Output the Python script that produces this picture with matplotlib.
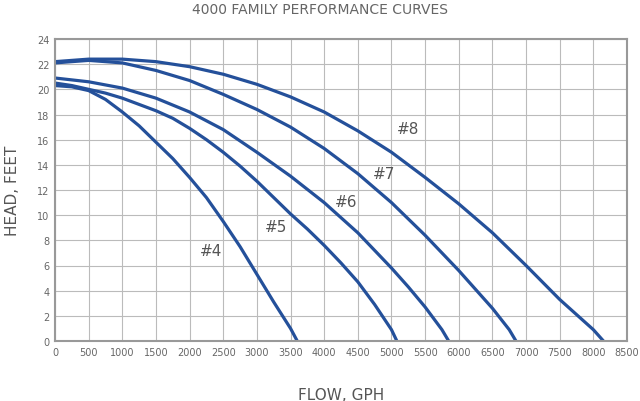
import matplotlib
matplotlib.use("Agg")
import matplotlib.pyplot as plt

flow4 = [0, 250, 500, 750, 1000, 1250, 1500, 1750, 2000, 2250, 2500, 2750, 3000, 3250, 3500, 3600]
head4 = [20.3, 20.2, 19.9, 19.2, 18.2, 17.1, 15.8, 14.5, 13.0, 11.4, 9.5, 7.5, 5.3, 3.1, 1.0, 0]
flow5 = [0, 250, 500, 750, 1000, 1250, 1500, 1750, 2000, 2250, 2500, 2750, 3000, 3250, 3500, 3750, 4000, 4250, 4500, 4750, 5000, 5080]
head5 = [20.5, 20.3, 20.0, 19.7, 19.3, 18.8, 18.3, 17.7, 16.9, 16.0, 15.0, 13.9, 12.7, 11.4, 10.1, 8.9, 7.6, 6.2, 4.7, 2.9, 0.9, 0]
flow6 = [0, 500, 1000, 1500, 2000, 2500, 3000, 3500, 4000, 4500, 5000, 5250, 5500, 5750, 5850]
head6 = [20.9, 20.6, 20.1, 19.3, 18.2, 16.8, 15.0, 13.1, 11.0, 8.6, 5.8, 4.3, 2.7, 0.9, 0]
flow7 = [0, 500, 1000, 1500, 2000, 2500, 3000, 3500, 4000, 4500, 5000, 5500, 6000, 6250, 6500, 6750, 6850]
head7 = [22.1, 22.3, 22.1, 21.5, 20.7, 19.6, 18.4, 17.0, 15.3, 13.3, 11.0, 8.4, 5.6, 4.1, 2.6, 0.9, 0]
flow8 = [0, 500, 1000, 1500, 2000, 2500, 3000, 3500, 4000, 4500, 5000, 5500, 6000, 6500, 7000, 7500, 7750, 8000, 8150]
head8 = [22.2, 22.4, 22.4, 22.2, 21.8, 21.2, 20.4, 19.4, 18.2, 16.7, 15.0, 13.0, 10.9, 8.6, 6.0, 3.3, 2.1, 0.9, 0]
labels = ["#4", "#5", "#6", "#7", "#8"]
label_x = [2320, 3280, 4330, 4890, 5245]
label_y = [7.2, 9.1, 11.1, 13.3, 16.9]

fig = plt.figure(figsize=(6.4, 4.02), dpi=100)
ax = fig.add_axes([55/640, 60/402, 572/640, 302/402])
col = "#24509a"
for f, h in [(flow4, head4), (flow5, head5), (flow6, head6), (flow7, head7), (flow8, head8)]:
    ax.plot(f, h, color=col, lw=2.3, solid_capstyle="round", solid_joinstyle="round")
for t, x, y in zip(labels, label_x, label_y):
    ax.text(x, y, t, fontsize=11, color="#555555", ha="center", va="center")
ax.set_xlim(0, 8500)
ax.set_ylim(0, 24)
ax.set_xticks(range(0, 8501, 500))
ax.set_yticks(range(0, 25, 2))
ax.grid(color="#bbbbbb", lw=0.8)
ax.tick_params(labelsize=7, colors="#666666", length=0, pad=4)
for s in ax.spines.values():
    s.set_color("#999999")
    s.set_linewidth(1.5)
ax.set_xlabel("FLOW, GPH", fontsize=11, color="#555555", labelpad=22)
ax.set_ylabel("HEAD, FEET", fontsize=11, color="#555555", labelpad=12)
fig.text(0.5, 1 - 10/402, "4000 FAMILY PERFORMANCE CURVES", ha="center", va="center", fontsize=10, color="#666666")
fig.savefig("out.png", dpi=100)
